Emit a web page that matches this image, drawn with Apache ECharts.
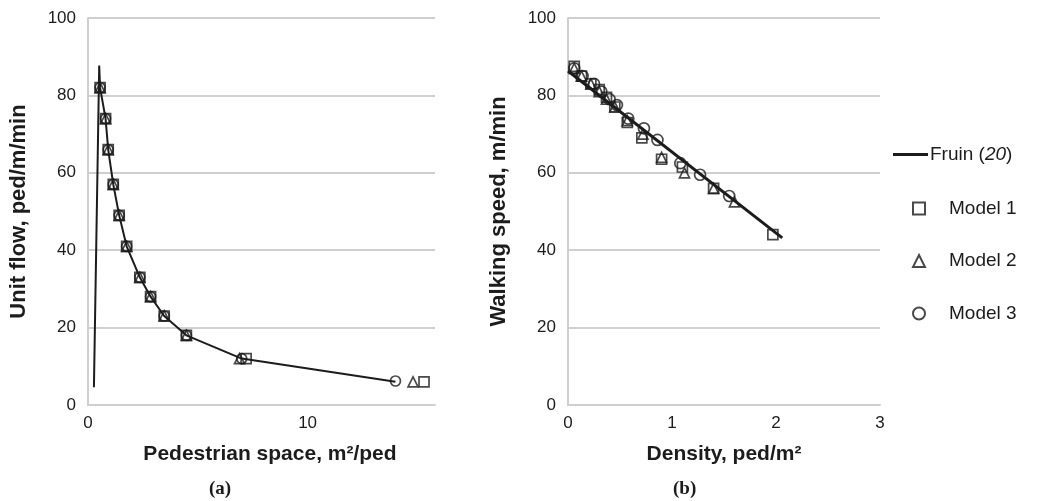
<!DOCTYPE html>
<html>
<head>
<meta charset="utf-8">
<script src="https://cdn.jsdelivr.net/npm/echarts@6/dist/echarts.min.js"></script>
<style>
html,body{margin:0;padding:0;background:#fff;}
#chart{width:1046px;height:501px;}
</style>
</head>
<body>
<div id="chart"></div>
<script>
// ---- Data (a): unit flow vs pedestrian space ----
const fruinA = [[0.27,4.6],[0.51,87.7],[0.55,82],[0.8,74],[0.92,66],[1.15,57],[1.42,49],[1.76,41],[2.36,33],[2.85,28],[3.47,23],[4.48,18],[7.0,12],[14.0,6]];
const model1A = [[0.55,82],[0.8,74],[0.92,66],[1.15,57],[1.42,49],[1.76,41],[2.36,33],[2.85,28],[3.47,23],[4.48,18],[7.2,12],[15.3,6]];
const model2A = [[0.55,82],[0.8,74],[0.92,66],[1.15,57],[1.42,49],[1.76,41],[2.36,33],[2.85,28],[3.47,23],[4.48,18],[6.9,12],[14.8,6]];
const model3A = [[0.55,82],[0.8,74],[0.92,66],[1.15,57],[1.42,49],[1.76,41],[2.36,33],[2.85,28],[3.47,23],[4.48,18],[7.0,12],[14.0,6.2]];
// ---- Data (b): walking speed vs density ----
const fruinB = [[0,86.3],[2.06,43.2]];
const model1B = [[0.06,87.5],[0.13,85],[0.22,83],[0.3,81.5],[0.37,79.5],[0.45,77],[0.57,73],[0.71,69],[0.9,63.5],[1.1,61.5],[1.4,56],[1.97,44]];
const model2B = [[0.06,87],[0.13,85],[0.22,83],[0.3,81],[0.37,79],[0.45,77],[0.57,73.5],[0.72,70],[0.9,64],[1.12,60],[1.4,56],[1.6,52.5]];
const model3B = [[0.06,87],[0.14,85],[0.25,83],[0.32,81],[0.4,79],[0.47,77.5],[0.58,74],[0.73,71.5],[0.86,68.5],[1.08,62.5],[1.27,59.5],[1.55,54]];
// ---- Axes / labels ----
const yTicks = {min:0, max:100, interval:20};
const xA = {min:0, max:15.8, interval:10};
const xB = {min:0, max:3, interval:1};
const names = {xA:'Pedestrian space, m\u00B2/ped', yA:'Unit flow, ped/m/min', xB:'Density, ped/m\u00B2', yB:'Walking speed, m/min'};

const FONT = '"Liberation Sans", Arial, sans-serif';
const INK = '#1c1c1c';
const GRID = '#cfcfcf';

function xAxis(idx, r, name, pad){
  return {type:'value', gridIndex:idx, min:r.min, max:r.max, interval:r.interval,
    name:name, nameLocation:'middle', nameGap:39,
    nameTextStyle:{fontFamily:FONT, fontWeight:'bold', fontSize:21, color:INK, padding:pad},
    axisLine:{lineStyle:{color:GRID, width:2}}, axisTick:{show:false},
    axisLabel:{fontFamily:FONT, fontSize:17, color:INK, margin:10, showMaxLabel: r.max % r.interval === 0},
    splitLine:{show:false}};
}
function yAxis(idx, name){
  return {type:'value', gridIndex:idx, min:yTicks.min, max:yTicks.max, interval:yTicks.interval,
    name:name, nameLocation:'middle', nameGap:58,
    nameTextStyle:{fontFamily:FONT, fontWeight:'bold', fontSize:22, color:INK},
    axisLine:{show:true, lineStyle:{color:GRID, width:2}}, axisTick:{show:false},
    axisLabel:{fontFamily:FONT, fontSize:17, color:INK, margin:12},
    splitLine:{show:true, lineStyle:{color:GRID, width:2}}};
}
const mk = {color:'rgba(0,0,0,0)', borderColor:INK, borderWidth:1.7};
function scatter(name, sym, size, data, idx){
  return {name:name, type:'scatter', xAxisIndex:idx, yAxisIndex:idx, symbol:sym, symbolSize:size,
    data:data, itemStyle:mk, z:3};
}
function line(name, data, idx, w){
  return {name:name, type:'line', xAxisIndex:idx, yAxisIndex:idx, data:data, showSymbol:false, symbol:'none',
    lineStyle:{color:INK, width:w}, itemStyle:{color:INK}, z:4};
}

const chart = echarts.init(document.getElementById('chart'));
chart.setOption({
  animation:false,
  backgroundColor:'#fff',
  grid:[{left:88, top:18, width:347, height:387}, {left:568, top:18, width:312, height:387}],
  xAxis:[xAxis(0, xA, names.xA, [0,0,0,17]), xAxis(1, xB, names.xB, 0)],
  yAxis:[yAxis(0, names.yA), yAxis(1, names.yB)],
  legend:[
    {data:[{name:'Fruin', icon:'rect'}], left:893, top:145, padding:0, itemWidth:35, itemHeight:3,
     itemStyle:{color:INK, borderWidth:0},
     formatter:function(){return '{n|Fruin (}{i|20}{n|)}';},
     textStyle:{fontFamily:FONT, fontSize:19, color:INK, padding:[0,0,0,-3],
       rich:{n:{fontFamily:FONT, fontSize:19, color:INK}, i:{fontFamily:FONT, fontSize:19, color:INK, fontStyle:'italic'}}}},
    {data:['Model 1','Model 2','Model 3'], orient:'vertical', left:912, top:199, padding:0,
     itemWidth:12, itemHeight:12, itemGap:33.5,
     textStyle:{fontFamily:FONT, fontSize:19, color:INK, padding:[0,0,0,19]}}
  ],
  graphic:[
    {type:'text', left:209, top:480, style:{text:'(a)', font:'bold 19px "Liberation Serif", "DejaVu Serif", serif', fill:INK}},
    {type:'text', left:673, top:480, style:{text:'(b)', font:'bold 19px "Liberation Serif", "DejaVu Serif", serif', fill:INK}}
  ],
  series:[
    line('Fruin', fruinA, 0, 2),
    scatter('Model 1', 'rect', 10, model1A, 0),
    scatter('Model 2', 'triangle', 10, model2A, 0),
    scatter('Model 3', 'circle', 10, model3A, 0),
    scatter('Model 1', 'rect', 10, model1B, 1),
    scatter('Model 2', 'triangle', 10, model2B, 1),
    scatter('Model 3', 'circle', 11, model3B, 1),
    line('Fruin', fruinB, 1, 3)
  ]
});
</script>
</body>
</html>
